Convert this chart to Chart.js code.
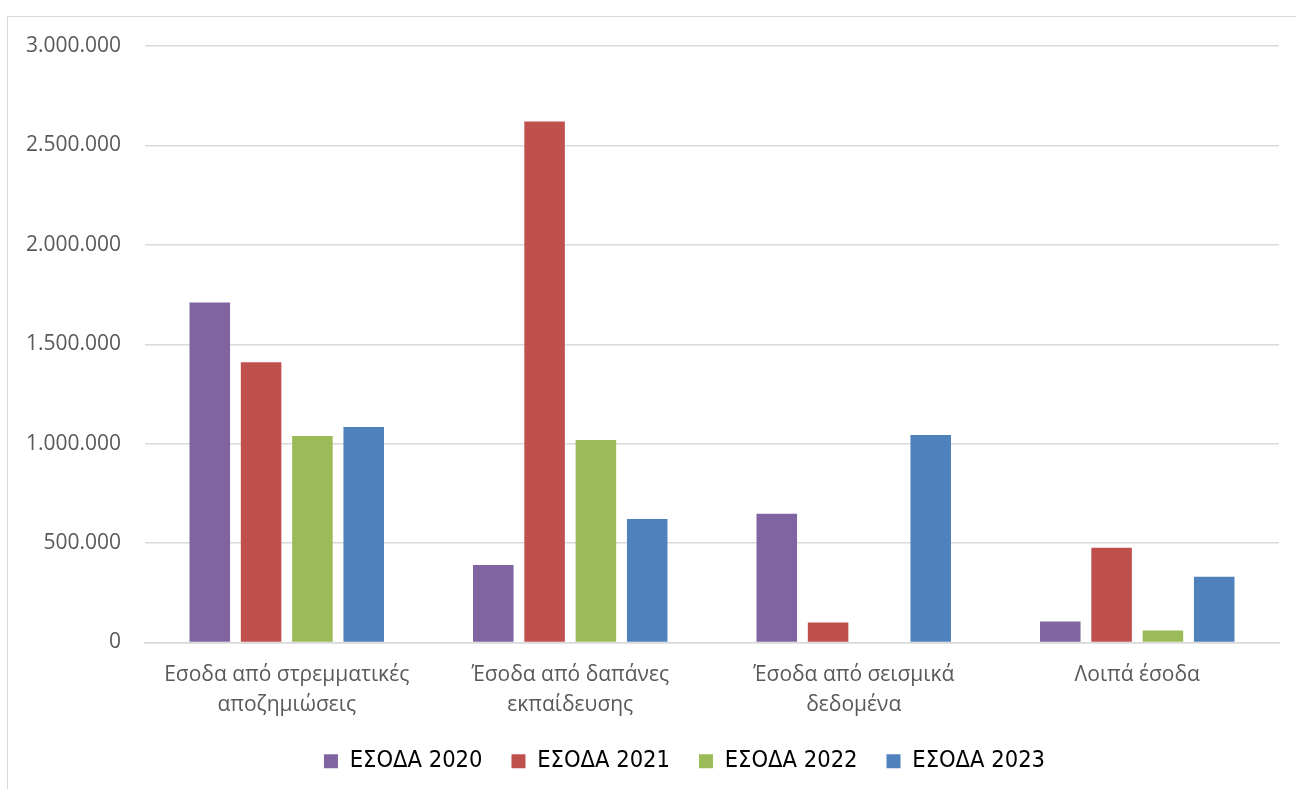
<!DOCTYPE html>
<html>
<head>
<meta charset="utf-8">
<script src="https://cdn.jsdelivr.net/npm/chart.js@4.4.0/dist/chart.umd.min.js"></script>
<style>
  html, body { margin: 0; padding: 0; background: #ffffff; }
  #wrap { position: relative; width: 1296px; height: 789px; }
  #frame { position: absolute; left: 7px; top: 16px; right: -2px; bottom: -2px; border: 1px solid #d9d9d9; }
  canvas { position: absolute; left: 0; top: 0; }
</style>
</head>
<body>
<div id="wrap">
  <div id="frame"></div>
  <canvas id="incomeChart" width="1296" height="789"></canvas>
</div>
<script>
// Categories and yearly income values
const categories = [
  ['Εσοδα από στρεμματικές', 'αποζημιώσεις'],
  ['Έσοδα από δαπάνες', 'εκπαίδευσης'],
  ['Έσοδα από σεισμικά', 'δεδομένα'],
  'Λοιπά έσοδα'
];
const income2020 = [1710000, 390000, 647000, 105000];
const income2021 = [1410000, 2620000, 100000, 476000];
const income2022 = [1038000, 1018000, 0, 60000];
const income2023 = [1084000, 621000, 1043000, 331000];
const yTicks = [0, 500000, 1000000, 1500000, 2000000, 2500000, 3000000];

// Greek style thousands separator
function formatGreek(value) {
  return String(Math.round(value)).replace(/\B(?=(\d{3})+(?!\d))/g, '.');
}

// The legend in the original is centred a bit right of the canvas middle
const legendShift = {
  id: 'legendShift',
  afterLayout(chart) {
    chart.legend.left += 45;
    chart.legend.right += 45;
  }
};

const chartData = {
  labels: categories,
  datasets: [
    { label: 'ΕΣΟΔΑ 2020', data: income2020, backgroundColor: '#8064a2' },
    { label: 'ΕΣΟΔΑ 2021', data: income2021, backgroundColor: '#c0504d' },
    { label: 'ΕΣΟΔΑ 2022', data: income2022, backgroundColor: '#9bbb59' },
    { label: 'ΕΣΟΔΑ 2023', data: income2023, backgroundColor: '#4f81bd' }
  ]
};

const ctx = document.getElementById('incomeChart').getContext('2d');
new Chart(ctx, {
  type: 'bar',
  data: chartData,
  plugins: [legendShift],
  options: {
    responsive: false,
    animation: false,
    devicePixelRatio: 1,
    categoryPercentage: 0.724,
    barPercentage: 0.79,
    layout: {
      padding: { top: 46, right: 17, bottom: 6, left: 0 }
    },
    scales: {
      x: {
        grid: { display: false },
        border: { color: '#d9d9d9', width: 1.5 },
        ticks: {
          color: '#595959',
          font: { family: 'Open Sans', size: 21, lineHeight: 1.4 },
          padding: 10,
          maxRotation: 0,
          autoSkip: false
        },
        afterFit: function(scale) { scale.height = 78; }
      },
      y: {
        min: 0,
        max: 3000000,
        afterBuildTicks: function(scale) {
          scale.ticks = yTicks.map(v => ({ value: v }));
        },
        grid: { color: '#d9d9d9', lineWidth: 1.5, drawTicks: false },
        border: { display: false },
        ticks: {
          color: '#595959',
          font: { family: 'Open Sans', size: 21 },
          padding: 24,
          callback: function(value) { return formatGreek(value); }
        },
        afterFit: function(scale) { scale.width = 145; }
      }
    },
    plugins: {
      legend: {
        position: 'bottom',
        labels: {
          color: '#000000',
          boxWidth: 14,
          boxHeight: 14,
          padding: 29,
          font: { family: 'DejaVu Sans Condensed', size: 23.5 }
        }
      },
      tooltip: { enabled: false }
    }
  }
});
</script>
</body>
</html>
